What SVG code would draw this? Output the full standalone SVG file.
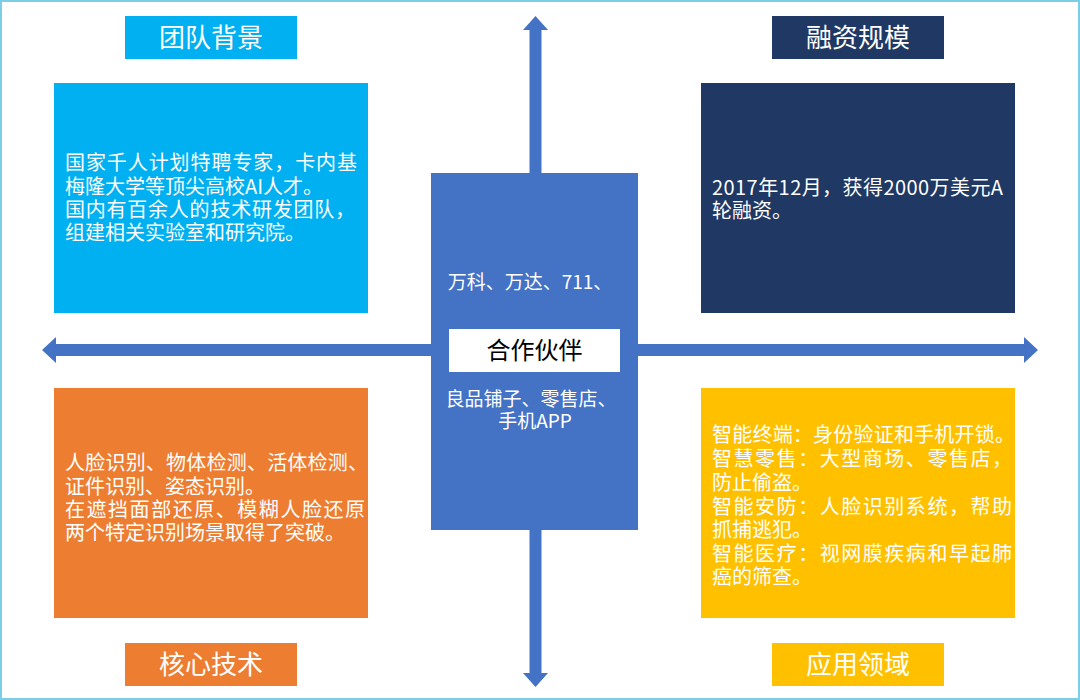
<svg xmlns="http://www.w3.org/2000/svg" width="1080" height="700" viewBox="0 0 1080 700">
<style>
.hd{font-family:"Noto Sans CJK SC","Noto Sans",sans-serif;font-size:26px;fill:#ffffff;text-anchor:middle}
.bt{font-family:"Noto Sans CJK SC","Noto Sans",sans-serif;font-size:20px;fill:#ffffff}
.ct{font-family:"Noto Sans CJK SC","Noto Sans",sans-serif;font-size:19px;fill:#ffffff;text-anchor:middle}
.arrow{fill:#4472c4}
</style>
<rect x="0" y="0" width="1080" height="700" fill="#ffffff"/>
<rect x="1" y="1" width="1078" height="698" fill="none" stroke="#7ccde6" stroke-width="2"/>
<g id="connectors">
<polygon class="arrow" points="42,350 56,337 56,344 1024,344 1024,337 1038,350 1024,363 1024,356 56,356 56,363"/>
<polygon class="arrow" points="535.5,16 548,30 541.5,30 541.5,673 548,673 535.5,687 523,673 529.5,673 529.5,30 523,30"/>
</g>
<g id="team-header">
<rect x="125" y="16" width="172" height="43" fill="#00b0f0"/>
<text class="hd" x="211" y="46.5">团队背景</text>
</g>
<g id="team-box">
<rect x="54" y="83" width="314" height="230" fill="#00b0f0"/>
<text class="bt" x="65" y="170" textLength="292" lengthAdjust="spacing">国家千人计划特聘专家，卡内基</text>
<text class="bt" x="65" y="194">梅隆大学等顶尖高校AI人才。</text>
<text class="bt" x="65" y="217" textLength="290" lengthAdjust="spacing">国内有百余人的技术研发团队，</text>
<text class="bt" x="65" y="240">组建相关实验室和研究院。</text>
</g>
<g id="funding-header">
<rect x="772" y="16" width="172" height="43" fill="#1f3864"/>
<text class="hd" x="858" y="46.5">融资规模</text>
</g>
<g id="funding-box">
<rect x="701" y="83" width="314" height="230" fill="#1f3864"/>
<text class="bt" x="712" y="195" textLength="291" lengthAdjust="spacing">2017年12月，获得2000万美元A</text>
<text class="bt" x="712" y="218">轮融资。</text>
</g>
<g id="partner">
<rect x="431" y="173" width="207" height="357" fill="#4472c4"/>
<text class="ct" x="530" y="289">万科、万达、711、</text>
<rect x="449" y="329" width="171" height="43" fill="#ffffff"/>
<text x="534.5" y="359" font-family="'Noto Sans CJK SC',sans-serif" font-size="24" fill="#000000" text-anchor="middle">合作伙伴</text>
<text class="ct" x="531" y="406">良品铺子、零售店、</text>
<text class="ct" x="535" y="428">手机APP</text>
</g>
<g id="tech-box">
<rect x="54" y="388" width="314" height="230" fill="#ed7d31"/>
<text class="bt" x="65" y="470" textLength="303" lengthAdjust="spacing">人脸识别、物体检测、活体检测、</text>
<text class="bt" x="65" y="494">证件识别、姿态识别。</text>
<text class="bt" x="65" y="517" textLength="300" lengthAdjust="spacing">在遮挡面部还原、模糊人脸还原</text>
<text class="bt" x="65" y="540">两个特定识别场景取得了突破。</text>
</g>
<g id="tech-header">
<rect x="125" y="643" width="172" height="43" fill="#ed7d31"/>
<text class="hd" x="211" y="673.5">核心技术</text>
</g>
<g id="app-box">
<rect x="701" y="388" width="314" height="230" fill="#ffc000"/>
<text class="bt" x="712" y="442" textLength="303" lengthAdjust="spacing">智能终端：身份验证和手机开锁。</text>
<text class="bt" x="712" y="466" textLength="300" lengthAdjust="spacing">智慧零售：大型商场、零售店，</text>
<text class="bt" x="712" y="490">防止偷盗。</text>
<text class="bt" x="712" y="514" textLength="300" lengthAdjust="spacing">智能安防：人脸识别系统，帮助</text>
<text class="bt" x="712" y="537">抓捕逃犯。</text>
<text class="bt" x="712" y="561" textLength="300" lengthAdjust="spacing">智能医疗：视网膜疾病和早起肺</text>
<text class="bt" x="712" y="584">癌的筛查。</text>
</g>
<g id="app-header">
<rect x="772" y="643" width="172" height="43" fill="#ffc000"/>
<text class="hd" x="858" y="673.5">应用领域</text>
</g>
</svg>
